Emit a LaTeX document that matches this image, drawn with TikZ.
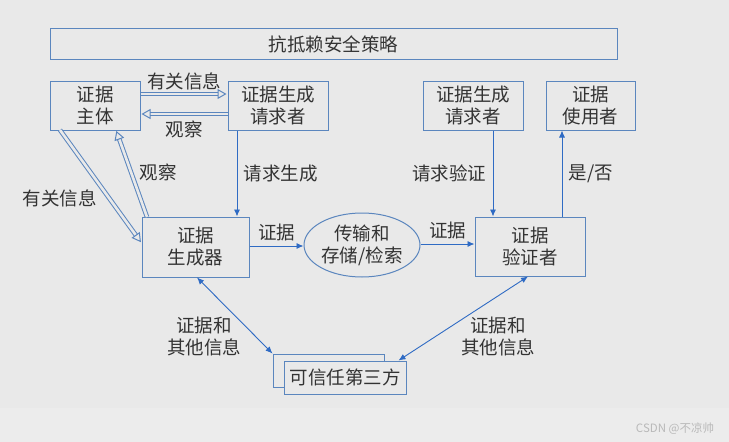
\documentclass[tikz,border=0pt]{standalone}
\usepackage{fontspec}
\setmainfont{Noto Sans CJK SC}
\usetikzlibrary{arrows.meta,shapes.geometric}
\definecolor{bgtop}{HTML}{E9E9E9}
\definecolor{bgbot}{HTML}{ECECEC}
\definecolor{boxline}{HTML}{5B86BE}
\definecolor{arrowblue}{HTML}{2F6BC4}
\definecolor{txt}{HTML}{333333}

\begin{document}
\begin{tikzpicture}[x=1pt,y=-1pt,
    font=\fontsize{18.5}{22}\selectfont, text=txt,
    box/.style={draw=boxline, line width=1pt, fill=bgtop, align=center, inner sep=0pt},
    flow/.style={draw=arrowblue, line width=0.9pt, -{Latex[length=7pt,width=6pt]}},
    both/.style={flow, {Latex[length=7pt,width=6pt]}-{Latex[length=7pt,width=6pt]}},
    hollow/.style={draw=boxline, double=bgtop, double distance=2.6pt, line width=1pt,
        -{Triangle[open, length=9pt, width=10pt, line width=1pt]}, shorten >=1pt}]
    \useasboundingbox (0,0) rectangle (729,442);
    \fill[bgtop] (0,0) rectangle (729,408);
    \fill[bgbot] (0,408) rectangle (729,442);
    %boxes of the diagram
    \node[box, minimum width=567, minimum height=31] (policy) at (333.5,44) {抗抵赖安全策略};
    \node[box, minimum width=90, minimum height=49] (subject) at (95,105.5) {证据\\主体};
    \node[box, minimum width=100, minimum height=49] (requester) at (278,105.5) {证据生成\\请求者};
    \node[box, minimum width=100, minimum height=49] (vrequester) at (473,105.5) {证据生成\\请求者};
    \node[box, minimum width=89, minimum height=49] (user) at (590.5,105.5) {证据\\使用者};
    \node[box, minimum width=107, minimum height=60] (generator) at (195.5,247) {证据\\生成器};
    \node[box, minimum width=110, minimum height=59] (verifier) at (530,246.5) {证据\\验证者};
    \node[draw=boxline, line width=1pt, fill=bgtop, ellipse, minimum width=116, minimum height=64,
        align=center, inner sep=0pt] (store) at (362,245) {传输和\\存储/检索};
    \node[box, minimum width=111, minimum height=33] (ttpback) at (328.5,370.5) {};
    \node[box, minimum width=122, minimum height=33] (ttp) at (345,377.5) {可信任第三方};
    %hollow double arrows
    \draw[hollow] ([yshift=11.5pt]subject.east) -- ([yshift=11.5pt]requester.west)
        node[midway, above=0pt] {有关信息};
    \draw[hollow] ([yshift=-8.5pt]requester.west) -- ([yshift=-8.5pt]subject.east)
        node[midway, below=3pt] {观察};
    \coordinate (relstart) at (60,130);
    \coordinate (relend) at (generator.west |- 0,243);
    \draw[hollow] (relstart) -- (relend);
    \node at (60,198) {有关信息};
    \coordinate (obsstart) at (147,217);
    \coordinate (obstop) at (116,130);
    \draw[hollow] (obsstart) -- (obstop);
    \node at (158,172) {观察};
    %plain arrows
    \draw[flow] (requester.south -| 237,0) -- (generator.north -| 237,0)
        node[midway, right=3pt] {请求生成};
    \draw[flow] (generator.east |- 0,246) -- (store.west |- 0,246)
        node[midway, above=1pt] {证据};
    \draw[flow] (store.east |- 0,244) -- (verifier.west |- 0,244)
        node[midway, above=1pt] {证据};
    \draw[flow] (vrequester.south -| 493,0) -- (verifier.north -| 493,0)
        node[midway, left=3pt] {请求验证};
    \draw[flow] (verifier.north -| 562,0) -- (user.south -| 562,0)
        node[midway, right=3pt] {是/否};
    \draw[both] (generator.south -| 197,0) -- (ttpback.north west);
    \node[align=center] at (204,337) {证据和\\其他信息};
    \draw[both] (verifier.south -| 528,0) -- ([xshift=-8pt]ttp.north east);
    \node[align=center] at (498,337) {证据和\\其他信息};
    %watermark
    \node[font=\fontsize{11.5}{13}\selectfont, text=gray!55] at (675,429) {CSDN @不凉帅};
\end{tikzpicture}
\end{document}
